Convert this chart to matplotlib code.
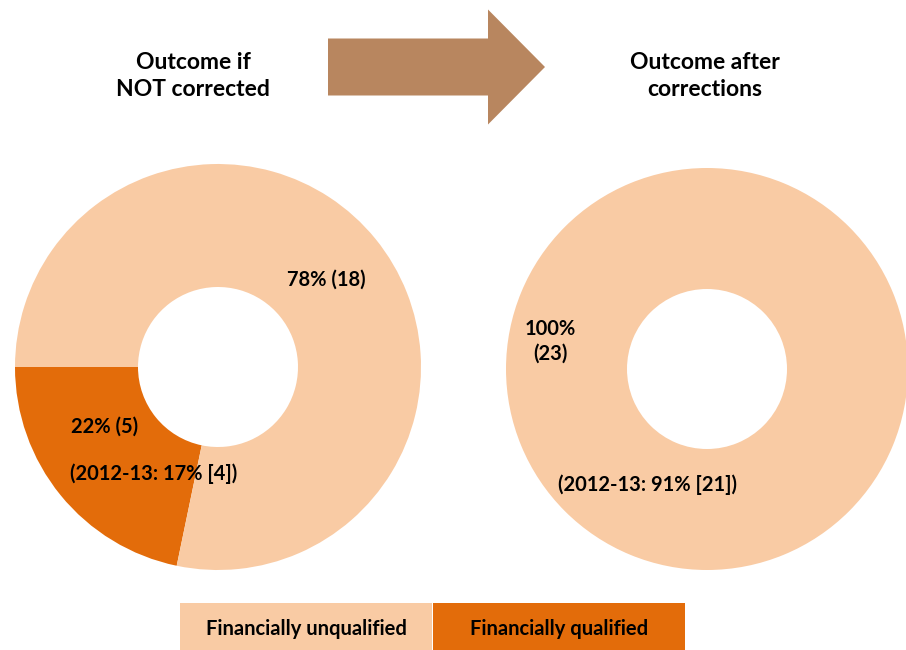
import matplotlib
matplotlib.use('Agg')
import matplotlib.pyplot as plt
from matplotlib.patches import FancyArrow, Rectangle

plt.rcParams['font.family'] = ['Lato', 'DejaVu Sans']
plt.rcParams['font.weight'] = 'bold'

# data
categories = ['Financially qualified', 'Financially unqualified']
not_corrected = [5, 18]      # counts, 22% / 78%
after_corrections = [0, 23]  # counts, 0% / 100%
label_not_corrected = ['22% (5)', '78% (18)']
prior_not_corrected = '(2012-13: 17% [4])'
label_after = '100%\n(23)'
prior_after = '(2012-13: 91% [21])'
titles = ['Outcome if\nNOT corrected', 'Outcome after\ncorrections']

light = '#F9CBA4'
dark = '#E36C0A'
brown = '#B8865F'

W, H = 906, 650
fig = plt.figure(figsize=(W / 100, H / 100), dpi=100)
ax = fig.add_axes([0, 0, 1, 1])

def py(y):
    # pixel row -> data y
    return H - y

wp = dict(width=123, edgecolor='none')
ax.pie(not_corrected, colors=[dark, light], startangle=180, counterclock=True,
       center=(218, py(367)), radius=203, wedgeprops=wp)
ax.pie([v for v in after_corrections if v > 0], colors=[light], startangle=180,
       center=(707, py(369)), radius=201, wedgeprops=dict(width=121, edgecolor='none'))

ax.set_xlim(0, W)
ax.set_ylim(0, H)
ax.set_aspect('equal')
ax.axis('off')

# titles
tt = dict(ha='center', va='center', fontsize=16.5, fontweight='bold', linespacing=1.4)
ax.text(193, py(76), titles[0], **tt)
ax.text(705, py(76), titles[1], **tt)

# arrow
ax.add_patch(FancyArrow(328, py(67), 217, 0, width=57, head_width=115, head_length=57,
                        length_includes_head=True, color=brown, lw=0))

# slice labels
lbl = dict(fontsize=14.5, fontweight='bold', va='center', ha='center')
ax.text(326, py(280), label_not_corrected[1], **lbl)
ax.text(105, py(427), label_not_corrected[0], **lbl)
ax.text(154, py(474), prior_not_corrected, **lbl)
ax.text(550, py(341), label_after, linespacing=1.3, **lbl)
ax.text(647, py(485), prior_after, **lbl)

# legend boxes
ax.add_patch(Rectangle((180, py(650)), 252, 47, color=light, lw=0))
ax.add_patch(Rectangle((433, py(650)), 252, 47, color=dark, lw=0))
ax.text(306, py(629), categories[1], ha='center', va='center', fontsize=14.5, fontweight='bold')
ax.text(559, py(629), categories[0], ha='center', va='center', fontsize=14.5, fontweight='bold')

fig.savefig('out.png', dpi=100)
